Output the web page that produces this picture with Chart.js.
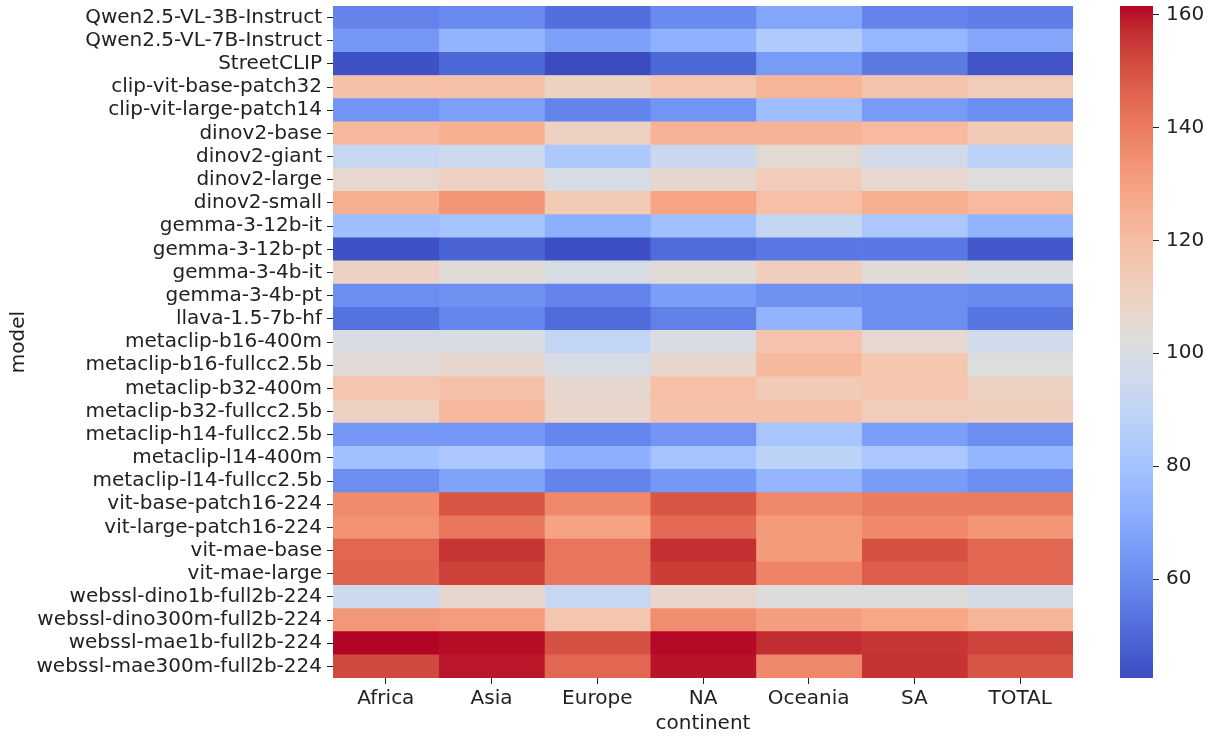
<!DOCTYPE html>
<html>
<head>
  <title>model x continent heatmap</title>
  <script src="https://cdn.jsdelivr.net/npm/chart.js"></script>
  <style>
    body { margin: 0; background: #fff; width: 1207px; height: 736px; overflow: hidden; }
    #heat { position: absolute; left: 0; top: 0; }
    #bar { position: absolute; left: 1100px; top: 0; }
  </style>
</head>
<body>
  <canvas id="heat" width="1090" height="736"></canvas>
  <canvas id="bar" width="107" height="736"></canvas>

  <script>
    const models = [
      'Qwen2.5-VL-3B-Instruct', 'Qwen2.5-VL-7B-Instruct', 'StreetCLIP',
      'clip-vit-base-patch32', 'clip-vit-large-patch14', 'dinov2-base',
      'dinov2-giant', 'dinov2-large', 'dinov2-small', 'gemma-3-12b-it',
      'gemma-3-12b-pt', 'gemma-3-4b-it', 'gemma-3-4b-pt', 'llava-1.5-7b-hf',
      'metaclip-b16-400m', 'metaclip-b16-fullcc2.5b', 'metaclip-b32-400m',
      'metaclip-b32-fullcc2.5b', 'metaclip-h14-fullcc2.5b', 'metaclip-l14-400m',
      'metaclip-l14-fullcc2.5b', 'vit-base-patch16-224', 'vit-large-patch16-224',
      'vit-mae-base', 'vit-mae-large', 'webssl-dino1b-full2b-224',
      'webssl-dino300m-full2b-224', 'webssl-mae1b-full2b-224', 'webssl-mae300m-full2b-224'
    ];
    const continents = ['Africa', 'Asia', 'Europe', 'NA', 'Oceania', 'SA', 'TOTAL'];

    // one array per continent, same order as models
    const africa  = [58, 64, 44, 118, 63, 121.5, 93, 106, 125, 78, 44, 110, 61, 53, 100, 104, 116, 110, 64, 79, 61, 136, 134, 145, 146, 95, 132.5, 161.5, 152];
    const asia    = [60, 74, 50, 118, 67, 125, 94.5, 110, 133, 80, 49, 104, 62, 58.5, 100, 107, 118, 121.5, 64, 82.5, 68, 149, 141.5, 155.5, 153.5, 107, 131, 160.5, 159.5];
    const europe  = [52, 67, 42.5, 110, 58, 110, 83, 99, 114, 72, 43.5, 99, 58, 51, 91, 99, 107, 108, 58.5, 72, 58, 136.5, 129, 141.5, 141.5, 93, 116, 150, 145];
    const na      = [60, 73, 50, 116, 63, 124, 94, 106.5, 128.5, 79, 51, 104, 66, 57, 100, 107, 118.5, 118, 63, 80, 64, 149, 144, 156.5, 154, 108, 135.5, 161, 160];
    const oceania = [69, 84, 65, 123, 78, 123.5, 105, 113, 119, 92, 54.5, 112, 62, 74, 117.5, 121.5, 113.5, 118, 81.5, 88.5, 74.5, 136.5, 131.5, 131.5, 138, 102.5, 130.5, 157, 136.5];
    const sa      = [58, 75, 55, 117, 65, 121, 97, 106, 125, 82.5, 54.5, 104, 61, 61, 106, 115.5, 116.5, 113, 66, 82.5, 65.5, 140, 136.5, 150, 147, 102.5, 128, 155.5, 156];
    const total   = [56, 69, 45, 113, 61, 114, 88.5, 102, 121, 74, 46, 100, 60, 54, 96, 102, 110, 112, 61, 74.5, 61, 140, 133, 145, 145, 98, 123, 153, 149];
    const columns = [africa, asia, europe, na, oceania, sa, total];

    const cbarTicks = [60, 80, 100, 120, 140, 160];

    const allVals = columns.flat();
    const vmin = Math.min(...allVals);
    const vmax = Math.max(...allVals);

    // matplotlib coolwarm (Moreland), 33 stops
    const cw = [
      [59,76,192],[68,90,204],[77,104,215],[87,117,225],[98,130,234],[108,142,241],
      [119,154,247],[130,165,251],[141,176,254],[152,185,255],[163,194,255],[174,201,253],
      [184,208,249],[194,213,244],[204,217,238],[213,219,230],[221,221,221],[229,216,209],
      [236,211,197],[241,204,185],[245,196,173],[247,187,160],[247,177,148],[247,166,135],
      [244,154,123],[241,141,111],[236,127,99],[229,112,88],[222,96,77],[213,80,66],
      [203,62,56],[192,40,47],[180,4,38]
    ];
    function coolwarm(t) {
      t = Math.max(0, Math.min(1, t));
      const p = t * (cw.length - 1);
      const i = Math.min(Math.floor(p), cw.length - 2);
      const f = p - i;
      const c = cw[i].map((v, k) => Math.round(v + (cw[i + 1][k] - v) * f));
      return 'rgb(' + c.join(',') + ')';
    }

    const FONT = { family: 'DejaVu Sans', size: 20 };
    const TXT = '#222';

    new Chart(document.getElementById('heat'), {
      type: 'bar',
      data: {
        labels: models,
        datasets: columns.map((vals, j) => ({
          label: continents[j],
          vals: vals,
          data: vals.map(() => [j, j + 1]),
          backgroundColor: ctx => coolwarm((ctx.dataset.vals[ctx.dataIndex] - vmin) / (vmax - vmin)),
          borderWidth: 0,
          barPercentage: 1,
          categoryPercentage: 1,
          grouped: false
        }))
      },
      options: {
        indexAxis: 'y',
        responsive: false,
        animation: false,
        layout: { padding: { top: 6, right: 17, left: 0, bottom: 0 } },
        plugins: { legend: { display: false }, tooltip: { enabled: false } },
        scales: {
          x: { type: 'linear', min: 0, max: 7, display: false },
          x2: {
            type: 'category',
            labels: continents,
            position: 'bottom',
            offset: true,
            grid: { offset: false, drawOnChartArea: false, tickLength: 6, color: TXT },
            border: { display: false },
            ticks: { color: TXT, font: FONT, padding: 3 },
            title: { display: true, text: 'continent', color: TXT, font: FONT, padding: { top: 0, bottom: 0 } },
            afterFit: s => { s.height = 58; s.paddingLeft = 0; s.paddingRight = 0; }
          },
          y: {
            type: 'category',
            offset: true,
            grid: { offset: false, drawOnChartArea: false, tickLength: 6, color: TXT },
            border: { display: false },
            ticks: { color: TXT, font: FONT, padding: 5, autoSkip: false },
            title: { display: true, text: 'model', color: TXT, font: FONT, padding: { top: 7, bottom: 0 } },
            afterFit: s => { s.width = 333; s.paddingTop = 0; s.paddingBottom = 0; }
          }
        }
      }
    });

    new Chart(document.getElementById('bar'), {
      type: 'bar',
      data: {
        labels: ['scale'],
        datasets: [{
          data: [[vmin, vmax]],
          backgroundColor: ctx => {
            const area = ctx.chart.chartArea;
            if (!area) return 'rgba(0,0,0,0)';
            const g = ctx.chart.ctx.createLinearGradient(0, area.bottom, 0, area.top);
            cw.forEach((c, i) => g.addColorStop(i / (cw.length - 1), 'rgb(' + c.join(',') + ')'));
            return g;
          },
          borderWidth: 0,
          barPercentage: 1,
          categoryPercentage: 1
        }]
      },
      options: {
        responsive: false,
        animation: false,
        layout: { padding: { top: 6, left: 20, right: 0, bottom: 58 } },
        plugins: { legend: { display: false }, tooltip: { enabled: false } },
        scales: {
          x: { display: false },
          y: {
            position: 'right',
            min: vmin,
            max: vmax,
            grid: { drawOnChartArea: false, tickLength: 6, color: TXT },
            border: { display: false },
            ticks: {
              color: TXT, font: FONT, padding: 7, includeBounds: false, stepSize: 20,
              callback: v => cbarTicks.includes(v) ? String(v) : ''
            },
            afterFit: s => { s.width = 54; s.paddingTop = 0; s.paddingBottom = 0; }
          }
        }
      }
    });
  </script>
</body>
</html>
